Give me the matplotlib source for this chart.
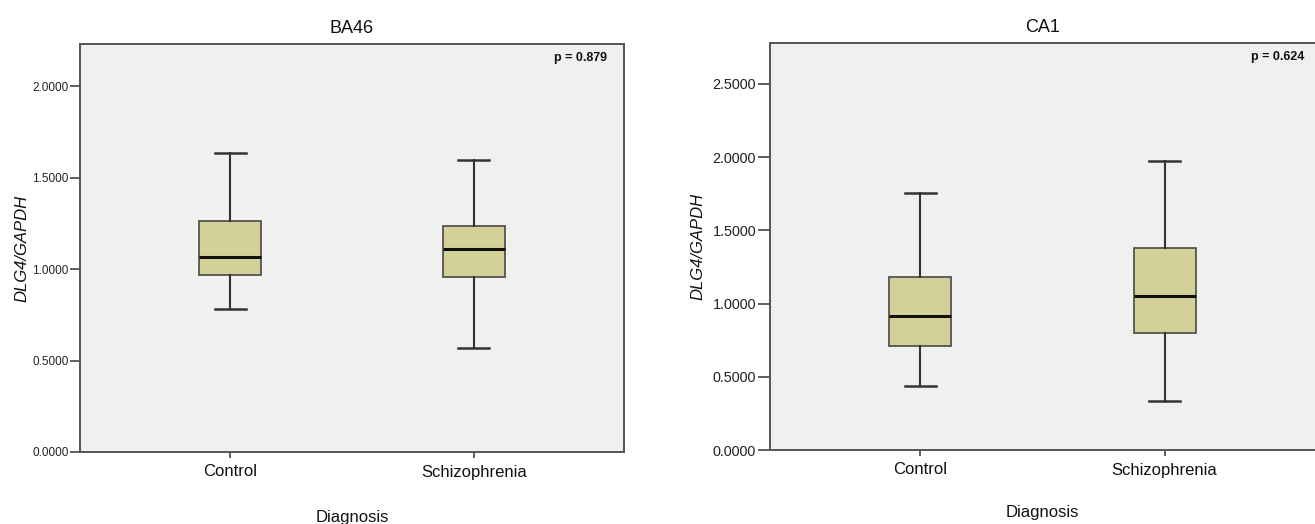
import matplotlib
matplotlib.use("Agg")
import matplotlib.pyplot as plt

plt.rcParams['font.family'] = ['Liberation Sans', 'DejaVu Sans']

categories = ["Control", "Schizophrenia"]

# BA46 five-number summaries
ba46_whislo = [0.781, 0.568]
ba46_q1 = [0.967, 0.956]
ba46_med = [1.066, 1.109]
ba46_q3 = [1.262, 1.235]
ba46_whishi = [1.634, 1.596]
ba46_p = "p = 0.879"

# CA1 five-number summaries
ca1_whislo = [0.437, 0.334]
ca1_q1 = [0.710, 0.799]
ca1_med = [0.915, 1.051]
ca1_q3 = [1.181, 1.379]
ca1_whishi = [1.754, 1.973]
ca1_p = "p = 0.624"

ba46_yticks = [0.0, 0.5, 1.0, 1.5, 2.0]
ca1_yticks = [0.0, 0.5, 1.0, 1.5, 2.0, 2.5]

W, H = 1315, 524
fig = plt.figure(figsize=(W / 100, H / 100), dpi=100)
fig.patch.set_facecolor('white')

def make_ax(x0, x1, ytop, ybot):
    return fig.add_axes([x0 / W, (H - ybot) / H, (x1 - x0) / W, (ybot - ytop) / H])

ax1 = make_ax(80, 624, 44, 452)
ax2 = make_ax(770, 1315, 43, 450)

def draw(ax, title, lo, q1, med, q3, hi, ptxt, yticks, ymax,
         ytick_fs, ytick_len, ylab_pad, xlab_pad, p_x):
    stats = []
    for i, c in enumerate(categories):
        stats.append(dict(label=c, whislo=lo[i], q1=q1[i], med=med[i], q3=q3[i],
                          whishi=hi[i], fliers=[]))
    ax.bxp(stats, positions=[1, 2], widths=0.254, patch_artist=True,
           showfliers=False,
           boxprops=dict(facecolor='#d4d09a', edgecolor='#4a4a40', linewidth=1.2),
           medianprops=dict(color='#111111', linewidth=2.2),
           whiskerprops=dict(color='#333333', linewidth=1.5),
           capprops=dict(color='#333333', linewidth=1.8),
           capwidths=0.127)
    ax.set_facecolor('#f0f0f0')
    ax.set_xlim(0.384, 2.616)
    ax.set_ylim(0, ymax)
    ax.set_yticks(yticks)
    ax.set_yticklabels([f"{v:.4f}" for v in yticks], fontsize=ytick_fs, color='#222222')
    ax.set_xticks([1, 2])
    ax.set_xticklabels(categories, fontsize=12, color='#111111')
    ax.tick_params(axis='y', direction='out', length=ytick_len, width=1.2, color='#444444', pad=1)
    ax.tick_params(axis='x', direction='out', length=4, width=1.2, color='#444444', pad=5)
    for s in ax.spines.values():
        s.set_color('#555555')
        s.set_linewidth(1.4)
    ax.set_title(title, fontsize=13, pad=8, color='#111111')
    ax.set_xlabel("Diagnosis", fontsize=12, labelpad=xlab_pad, color='#111111')
    ax.set_ylabel("DLG4/GAPDH", fontsize=12, style='italic', labelpad=ylab_pad, color='#111111')
    ax.text(p_x, 0.965, ptxt, transform=ax.transAxes, ha='right', va='center',
            fontsize=9, fontweight='bold', color='#111111')

draw(ax1, "BA46", ba46_whislo, ba46_q1, ba46_med, ba46_q3, ba46_whishi, ba46_p,
     ba46_yticks, 2.23, 8.5, 7, 2, 22, 0.969)
draw(ax2, "CA1", ca1_whislo, ca1_q1, ca1_med, ca1_q3, ca1_whishi, ca1_p,
     ca1_yticks, 2.78, 10.4, 9, 5, 20, 0.98)
ax2.spines['right'].set_visible(False)

fig.savefig("out.png", dpi=100)
